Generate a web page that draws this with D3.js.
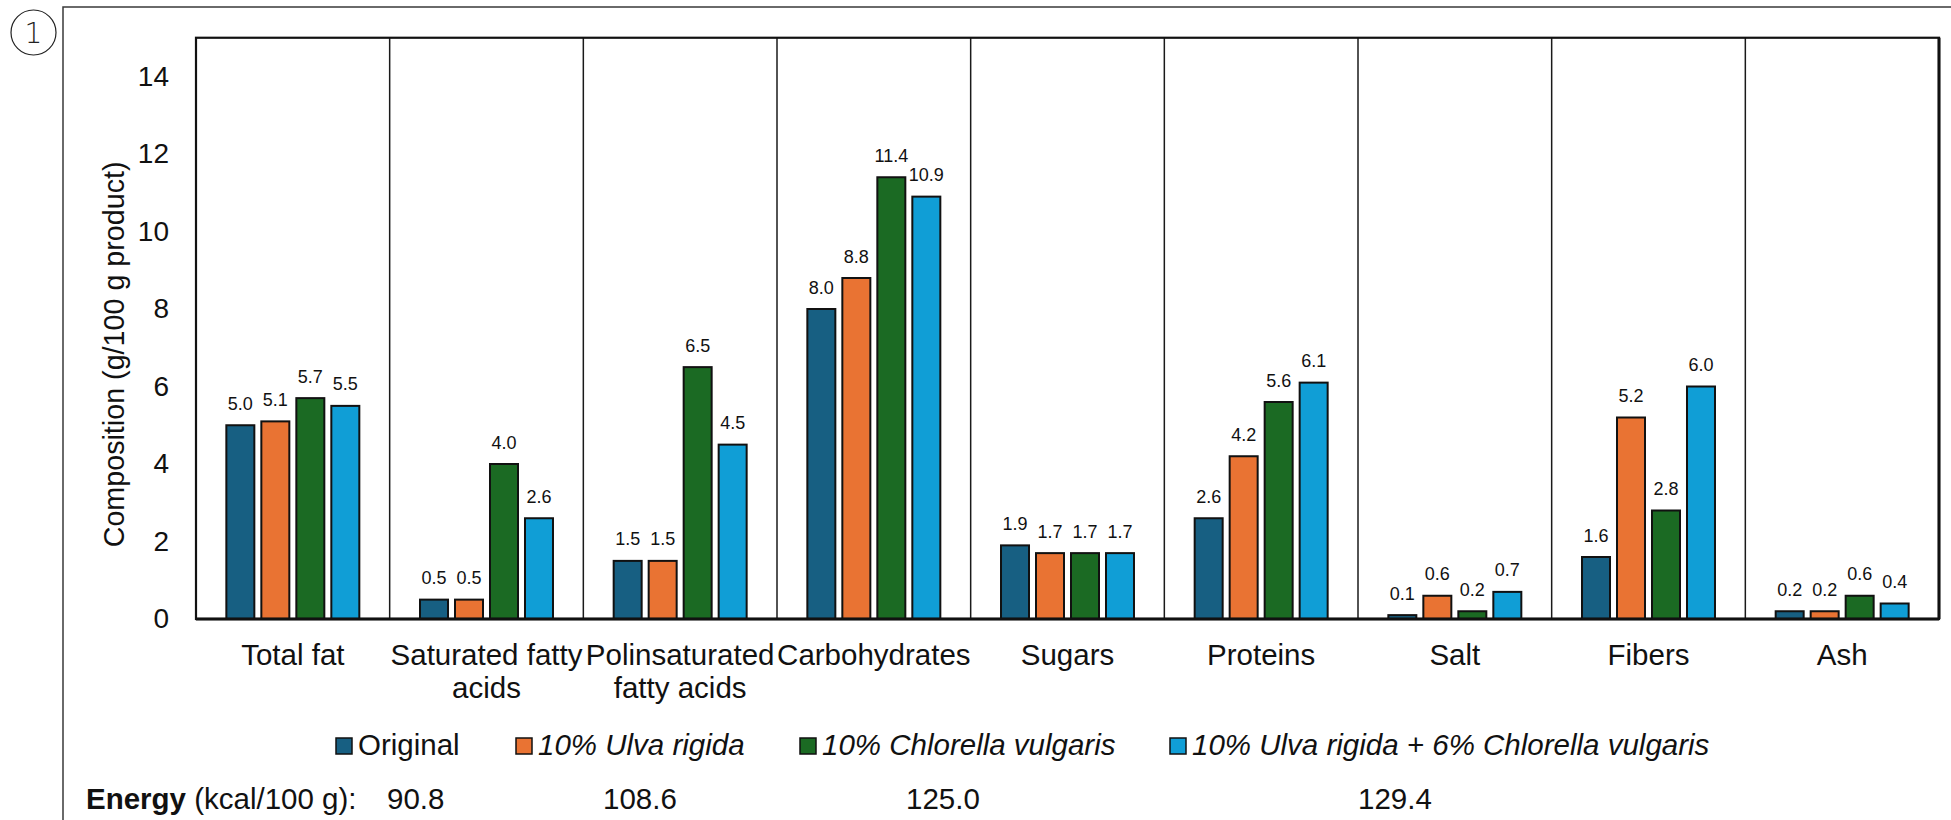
<!DOCTYPE html>
<html>
<head>
<meta charset="utf-8">
<script src="https://cdn.jsdelivr.net/npm/d3@7"></script>
<style>
  html, body { margin: 0; padding: 0; background: #fff; }
  svg { display: block; font-family: "Liberation Sans", Arial, sans-serif; }
</style>
</head>
<body>
<svg id="chart" width="1951" height="820"></svg>
<script>
// Nutritional composition per 100 g of product
const categories = ["Total fat", "Saturated fatty\nacids", "Polinsaturated\nfatty acids", "Carbohydrates", "Sugars", "Proteins", "Salt", "Fibers", "Ash"];
const seriesNames = ["Original", "10% Ulva rigida", "10% Chlorella vulgaris", "10% Ulva rigida + 6% Chlorella vulgaris"];
const seriesItalic = [false, true, true, true];
const seriesColors = ["#175f82", "#e97333", "#1b6a23", "#109ed6"];

const original      = [5.0, 0.5, 1.5, 8.0, 1.9, 2.6, 0.1, 1.6, 0.2];
const ulva          = [5.1, 0.5, 1.5, 8.8, 1.7, 4.2, 0.6, 5.2, 0.2];
const chlorella     = [5.7, 4.0, 6.5, 11.4, 1.7, 5.6, 0.2, 2.8, 0.6];
const ulvaChlorella = [5.5, 2.6, 4.5, 10.9, 1.7, 6.1, 0.7, 6.0, 0.4];

const energyValues = [90.8, 108.6, 125.0, 129.4];
const energyX = [387, 603, 906, 1358];
const legendX = [336, 516, 800, 1170];
const yTicks = [0, 2, 4, 6, 8, 10, 12, 14];

const seriesValues = [original, ulva, chlorella, ulvaChlorella];

const svg = d3.select("#chart");
const plot = { left: 196, right: 1939, top: 37.75, bottom: 619 };

// Outer panel frame and panel number
svg.append("path")
  .attr("d", "M63,820 V7 H1951")
  .attr("fill", "none").attr("stroke", "#3a3a3a").attr("stroke-width", 1.5);
svg.append("circle").attr("cx", 33.5).attr("cy", 32.5).attr("r", 22.5)
  .attr("fill", "none").attr("stroke", "#222").attr("stroke-width", 1.2);
svg.append("text").attr("x", 33.5).attr("y", 42.5).attr("text-anchor", "middle")
  .attr("font-size", 28).attr("font-family", "'DejaVu Sans', sans-serif").attr("font-weight", 200)
  .attr("fill", "#222").text("1");

// Scales
const x0 = d3.scaleBand().domain(d3.range(categories.length)).range([plot.left, plot.right]).padding(0);
const x1 = d3.scaleBand().domain(d3.range(seriesNames.length)).range([0, x0.bandwidth()])
  .paddingInner(0.2).paddingOuter(0.867);
const y = d3.scaleLinear().domain([0, 15]).range([plot.bottom, plot.top]);

// Category dividers
svg.append("g").selectAll("line").data(d3.range(1, categories.length)).join("line")
  .attr("x1", d => x0(d)).attr("x2", d => x0(d))
  .attr("y1", plot.top).attr("y2", plot.bottom)
  .attr("stroke", "#1a1a1a").attr("stroke-width", 1.5);

// Y axis
const yAxis = svg.append("g").attr("transform", `translate(${plot.left},0)`)
  .call(d3.axisLeft(y).tickValues(yTicks).tickSize(0).tickPadding(27).tickFormat(d3.format("d")));
yAxis.select(".domain").remove();
yAxis.selectAll("text").attr("font-size", 28).attr("fill", "#111")
  .attr("font-family", "'Liberation Sans', Arial, sans-serif");

svg.append("text")
  .attr("transform", `translate(124,${(plot.top + plot.bottom) / 2 + 26}) rotate(-90)`)
  .attr("text-anchor", "middle").attr("font-size", 28.7).attr("fill", "#111")
  .text("Composition (g/100 g product)");

// Bars
const groups = svg.append("g").selectAll("g").data(categories).join("g")
  .attr("transform", (d, i) => `translate(${x0(i)},0)`);

groups.selectAll("rect")
  .data((d, i) => seriesValues.map((vals, s) => ({ s, v: vals[i] })))
  .join("rect")
  .attr("x", d => x1(d.s))
  .attr("width", x1.bandwidth())
  .attr("y", d => y(d.v))
  .attr("height", d => y(0) - y(d.v))
  .attr("fill", d => seriesColors[d.s])
  .attr("stroke", "#111").attr("stroke-width", 2);

groups.selectAll("text.val")
  .data((d, i) => seriesValues.map((vals, s) => ({ s, v: vals[i] })))
  .join("text").attr("class", "val")
  .attr("x", d => x1(d.s) + x1.bandwidth() / 2)
  .attr("y", d => y(d.v) - 15.5)
  .attr("text-anchor", "middle").attr("font-size", 18).attr("fill", "#111")
  .text(d => d3.format(".1f")(d.v));

// Plot frame
svg.append("rect")
  .attr("x", plot.left).attr("y", plot.top)
  .attr("width", plot.right - plot.left).attr("height", plot.bottom - plot.top)
  .attr("fill", "none").attr("stroke", "#111").attr("stroke-width", 2.2);
svg.append("line").attr("x1", plot.left).attr("x2", plot.right)
  .attr("y1", y(0)).attr("y2", y(0)).attr("stroke", "#111").attr("stroke-width", 3);
svg.append("line").attr("x1", plot.right).attr("x2", plot.right)
  .attr("y1", plot.top).attr("y2", plot.bottom).attr("stroke", "#111").attr("stroke-width", 3);

// Category labels
const catLabels = svg.append("g").selectAll("text").data(categories).join("text")
  .attr("text-anchor", "middle").attr("font-size", 29.5).attr("fill", "#111")
  .attr("x", (d, i) => x0(i) + x0.bandwidth() / 2)
  .attr("y", 665);
catLabels.selectAll("tspan").data(d => d.split("\n")).join("tspan")
  .attr("x", function () { return d3.select(this.parentNode).attr("x"); })
  .attr("dy", (d, i) => i === 0 ? 0 : 33)
  .text(d => d);

// Legend
const legend = svg.append("g");
seriesNames.forEach((name, s) => {
  legend.append("rect").attr("x", legendX[s]).attr("y", 738).attr("width", 16).attr("height", 16)
    .attr("fill", seriesColors[s]).attr("stroke", "#111").attr("stroke-width", 1.5);
  legend.append("text").attr("x", legendX[s] + 22).attr("y", 755)
    .attr("font-size", 29.5).attr("fill", "#111")
    .attr("font-style", seriesItalic[s] ? "italic" : "normal")
    .text(name);
});

// Energy row
const energyRow = svg.append("text").attr("x", 86).attr("y", 809).attr("font-size", 29.5).attr("fill", "#111");
energyRow.append("tspan").attr("font-weight", "bold").text("Energy");
energyRow.append("tspan").text(" (kcal/100 g):");

svg.append("g").selectAll("text").data(energyValues).join("text")
  .attr("x", (d, i) => energyX[i]).attr("y", 809)
  .attr("font-size", 29.5).attr("fill", "#111")
  .text(d => d3.format(".1f")(d));
</script>
</body>
</html>
